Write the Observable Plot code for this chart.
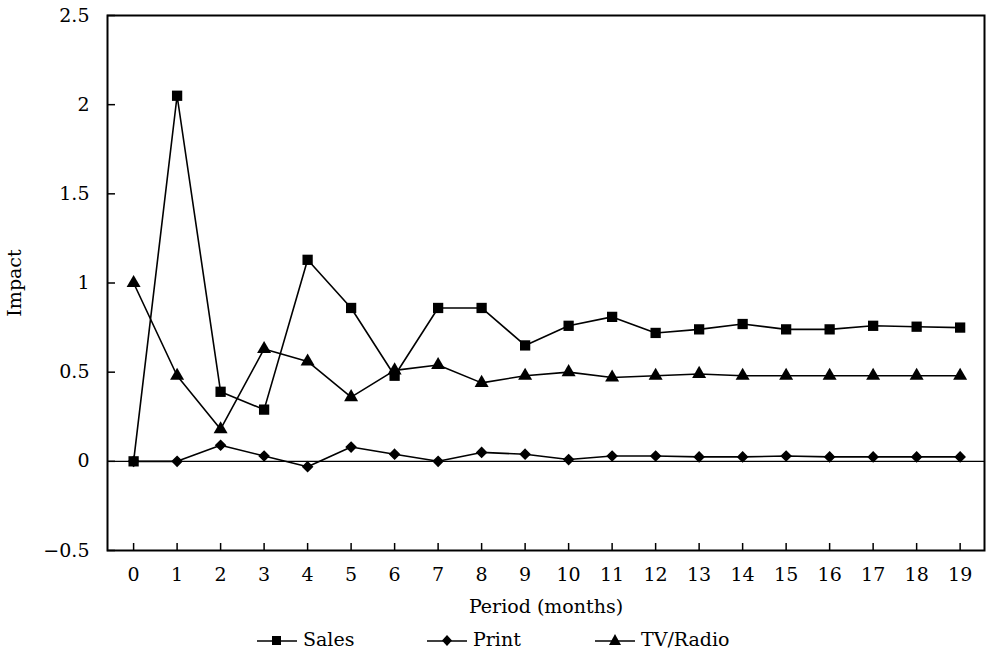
<!DOCTYPE html>
<html>
<head>
<meta charset="utf-8">
<script src="https://cdn.jsdelivr.net/npm/d3@7"></script>
<script src="https://cdn.jsdelivr.net/npm/@observablehq/plot@0.6"></script>
<style>
  html, body { margin: 0; padding: 0; background: #fff; }
  #chart { width: 986px; }
  .legend { position: relative; width: 986px; height: 46px; font-family: "DejaVu Serif", serif; font-size: 19px; color: #000; }
  .item { position: absolute; top: 8px; display: flex; align-items: flex-end; }
  .item svg { margin-right: 6px; }
</style>
</head>
<body>
<div id="chart"></div>
<div class="legend" id="legend"></div>
<script>
const periods = [0,1,2,3,4,5,6,7,8,9,10,11,12,13,14,15,16,17,18,19];
const sales   = [0, 2.05, 0.39, 0.29, 1.13, 0.86, 0.48, 0.86, 0.86, 0.65, 0.76, 0.81, 0.72, 0.74, 0.77, 0.74, 0.74, 0.76, 0.755, 0.75];
const print   = [0, 0, 0.09, 0.03, -0.03, 0.08, 0.04, 0, 0.05, 0.04, 0.01, 0.03, 0.03, 0.025, 0.025, 0.03, 0.025, 0.025, 0.025, 0.025];
const tvRadio = [1.0, 0.48, 0.18, 0.63, 0.56, 0.36, 0.51, 0.54, 0.44, 0.48, 0.50, 0.47, 0.48, 0.49, 0.48, 0.48, 0.48, 0.48, 0.48, 0.48];
const seriesNames = ["Sales", "Print", "TV/Radio"];
const yTicks = [-0.5, 0, 0.5, 1, 1.5, 2, 2.5];
const yTickLabels = ["\u22120.5", "0", "0.5", "1", "1.5", "2", "2.5"];

const seriesValues = [sales, print, tvRadio];
const rows = seriesNames.flatMap((s, i) => periods.map((p, j) => ({series: s, period: p, value: seriesValues[i][j]})));
const bySeries = s => rows.filter(d => d.series === s);

const chart = Plot.plot({
  width: 986,
  height: 620,
  marginLeft: 107,
  marginRight: 2,
  marginTop: 15,
  marginBottom: 70,
  style: {fontFamily: "DejaVu Serif", fontSize: "19px", color: "black", background: "white", overflow: "visible"},
  x: {domain: [-0.6, 19.56], ticks: periods, tickFormat: d => String(d), tickSize: 0, tickPadding: 17,
      label: "Period (months)", labelAnchor: "center", labelOffset: 62, labelArrow: "none"},
  y: {domain: [-0.5, 2.5], ticks: yTicks, tickFormat: d => yTickLabels[yTicks.indexOf(d)], tickSize: 0, tickPadding: 18,
      label: "Impact", labelAnchor: "center", labelOffset: 100, labelArrow: "none"},
  marks: [
    Plot.ruleY([0], {stroke: "black", strokeWidth: 1.3}),
    Plot.tickX(periods, {x: d => d, insetTop: 528, stroke: "black", strokeWidth: 1.5}),
    Plot.tickY(yTicks, {y: d => d, insetRight: 869, stroke: "black", strokeWidth: 1.5}),
    Plot.frame({stroke: "black", strokeWidth: 2}),
    Plot.line(rows, {x: "period", y: "value", z: "series", stroke: "black", strokeWidth: 1.6}),
    Plot.dot(bySeries("Sales"), {x: "period", y: "value", symbol: "square", fill: "black", r: 5.8}),
    Plot.dot(bySeries("Print"), {x: "period", y: "value", symbol: "diamond2", fill: "black", stroke: "black", r: 4.3}),
    Plot.dot(bySeries("TV/Radio"), {x: "period", y: "value", symbol: "triangle", fill: "black", r: 5.2})
  ]
});
document.getElementById("chart").appendChild(chart);

// legend
const legendItems = [
  {name: "Sales", left: 257, shape: "M15,6h9v9h-9z"},
  {name: "Print", left: 427, shape: "M20,5l5,5.5l-5,5.5l-5,-5.5z"},
  {name: "TV/Radio", left: 595, shape: "M20,4l6,11h-12z"}
];
const legend = document.getElementById("legend");
legendItems.forEach(it => {
  const div = document.createElement("div");
  div.className = "item";
  div.style.left = it.left + "px";
  div.innerHTML = `<svg width="40" height="20" viewBox="0 0 40 20"><line x1="0" y1="11" x2="40" y2="11" stroke="black" stroke-width="1.6"/><path d="${it.shape}" fill="black"/></svg><span style="line-height:22px">${it.name}</span>`;
  legend.appendChild(div);
});
</script>
</body>
</html>
